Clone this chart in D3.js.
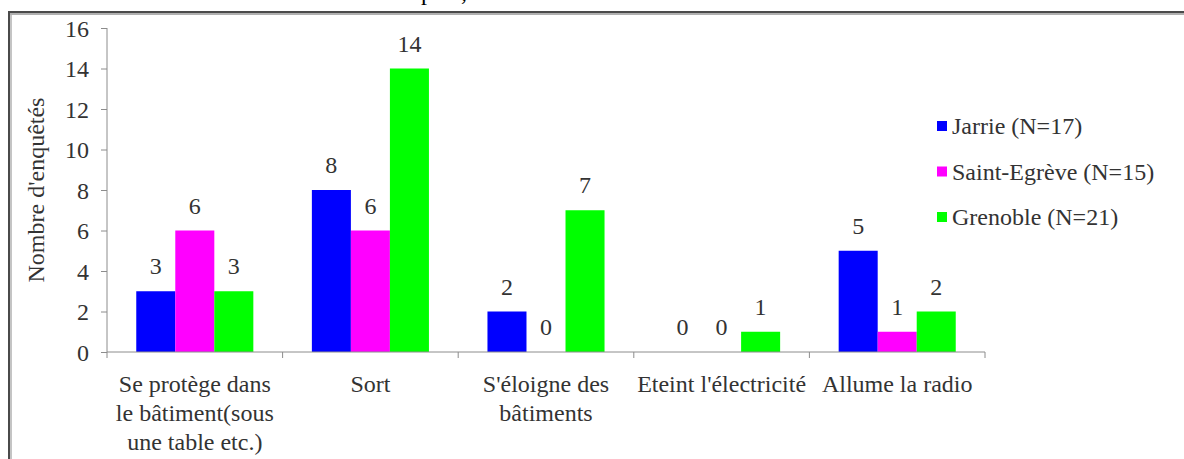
<!DOCTYPE html>
<html>
<head>
<meta charset="utf-8">
<script src="https://cdn.jsdelivr.net/npm/d3@7/dist/d3.min.js"></script>
<style>
  html, body { margin: 0; padding: 0; background: #fff; }
  svg { display: block; }
</style>
</head>
<body>
<svg id="chart" width="1184" height="459"></svg>
<script>
// Reactions reported by respondents, per survey site
const categories = [
  ["Se protège dans", "le bâtiment(sous", "une table etc.)"],
  ["Sort"],
  ["S'éloigne des", "bâtiments"],
  ["Eteint l'électricité"],
  ["Allume la radio"]
];
const seriesNames = ["Jarrie (N=17)", "Saint-Egrève (N=15)", "Grenoble (N=21)"];
const seriesColors = ["#0000ff", "#ff00ff", "#00ff00"];
const jarrie      = [3, 8, 2, 0, 5];
const saintEgreve = [6, 6, 0, 0, 1];
const grenoble    = [3, 14, 7, 1, 2];
const yTicks = [0, 2, 4, 6, 8, 10, 12, 14, 16];
const yTitle = "Nombre d'enquêtés";

const values = [jarrie, saintEgreve, grenoble];
const catKeys = categories.map((c, i) => i);

// Pick the first installed serif face (compare widths against a fallback)
function pickFont(candidates) {
  const ctx = document.createElement("canvas").getContext("2d");
  const sample = "mmmwwwiiilll Nombre 0123456789";
  for (const base of ["monospace", "sans-serif"]) {
    ctx.font = `40px ${base}`;
    const w0 = ctx.measureText(sample).width;
    for (const f of candidates) {
      ctx.font = `40px "${f}", ${base}`;
      if (Math.abs(ctx.measureText(sample).width - w0) > 0.5) return `"${f}", serif`;
    }
  }
  return "serif";
}
const FONT = pickFont(["Liberation Serif", "DejaVu Serif", "Noto Serif", "Tinos", "Times New Roman"]);
const TEXT_COLOR = "#333";
const FS = 24;

const svg = d3.select("#chart");
const plot = { left: 107, right: 985, top: 28, bottom: 352 };

// Frame of the surrounding text box (top and left edges)
const frame = svg.append("g");
frame.append("line").attr("x1", 8).attr("x2", 1184).attr("y1", 12).attr("y2", 12)
  .attr("stroke", "#4a4a4a").attr("stroke-width", 2);
frame.append("line").attr("x1", 10).attr("x2", 1184).attr("y1", 14).attr("y2", 14)
  .attr("stroke", "#b0b0b0").attr("stroke-width", 2);
frame.append("line").attr("x1", 9).attr("x2", 9).attr("y1", 11).attr("y2", 459)
  .attr("stroke", "#4a4a4a").attr("stroke-width", 2);
frame.append("line").attr("x1", 11).attr("x2", 11).attr("y1", 13).attr("y2", 459)
  .attr("stroke", "#b0b0b0").attr("stroke-width", 1.5);

// Caption line above the box, mostly cut off by the page edge
svg.append("text").attr("x", 421).attr("y", 0).attr("font-size", FS)
  .attr("font-family", FONT).attr("fill", "#000").text("plus,");

const x0 = d3.scaleBand().domain(catKeys).range([plot.left, plot.right]).paddingInner(0).paddingOuter(0);
const x1 = d3.scaleBand().domain(d3.range(seriesNames.length)).range([0, x0.bandwidth()]).paddingInner(0).paddingOuter(0.75);
const y = d3.scaleLinear().domain([0, 16]).range([plot.bottom, plot.top]);

const axisColor = "#8c8c8c";

// Y axis
const yAxis = svg.append("g").attr("transform", `translate(${plot.left},0)`)
  .call(d3.axisLeft(y).tickValues(yTicks).tickSize(6).tickPadding(12).tickFormat(d3.format("d")));
yAxis.attr("font-family", FONT).attr("font-size", FS);
yAxis.select(".domain").attr("stroke", axisColor).attr("d", `M0,${plot.top}V${plot.bottom}`);
yAxis.selectAll(".tick line").attr("stroke", axisColor);
yAxis.selectAll(".tick text").attr("fill", TEXT_COLOR).attr("dy", "0.34em");

// Bars
const groups = svg.append("g").selectAll("g").data(catKeys).join("g")
  .attr("transform", d => `translate(${x0(d)},0)`);
groups.selectAll("rect").data(ci => values.map((s, si) => ({ si, v: s[ci] }))).join("rect")
  .attr("x", d => x1(d.si)).attr("width", x1.bandwidth())
  .attr("y", d => y(d.v)).attr("height", d => y(0) - y(d.v))
  .attr("fill", d => seriesColors[d.si]);

// Value labels
groups.selectAll("text.val").data(ci => values.map((s, si) => ({ si, v: s[ci] }))).join("text")
  .attr("class", "val")
  .attr("x", d => x1(d.si) + x1.bandwidth() / 2)
  .attr("y", d => y(d.v) - 17)
  .attr("text-anchor", "middle").attr("font-size", FS)
  .attr("font-family", FONT).attr("fill", TEXT_COLOR)
  .text(d => d.v);

// X axis
const xAxis = svg.append("g").attr("transform", `translate(0,${plot.bottom})`);
xAxis.append("path").attr("d", `M${plot.left},0H${plot.right}`).attr("stroke", axisColor).attr("fill", "none");
xAxis.selectAll("line").data(catKeys.concat([categories.length])).join("line")
  .attr("x1", d => d < categories.length ? x0(d) : plot.right)
  .attr("x2", d => d < categories.length ? x0(d) : plot.right)
  .attr("y1", 0).attr("y2", 6).attr("stroke", axisColor);
xAxis.selectAll("text").data(catKeys).join("text")
  .attr("x", d => x0(d) + x0.bandwidth() / 2)
  .attr("y", 40)
  .attr("text-anchor", "middle").attr("font-size", FS)
  .attr("font-family", FONT).attr("fill", TEXT_COLOR)
  .each(function (d) {
    d3.select(this).selectAll("tspan").data(categories[d]).join("tspan")
      .attr("x", x0(d) + x0.bandwidth() / 2)
      .attr("dy", (t, i) => i === 0 ? 0 : 29)
      .text(t => t);
  });

// Y axis title
svg.append("text")
  .attr("transform", `translate(44,${(plot.top + plot.bottom) / 2}) rotate(-90)`)
  .attr("text-anchor", "middle").attr("font-size", FS)
  .attr("font-family", FONT).attr("fill", TEXT_COLOR)
  .text(yTitle);

// Legend
const legend = svg.append("g").selectAll("g").data(seriesNames).join("g")
  .attr("transform", (d, i) => `translate(937,${126 + i * 45.5})`);
legend.append("rect").attr("x", 0).attr("y", -5).attr("width", 10).attr("height", 10)
  .attr("fill", (d, i) => seriesColors[i]);
legend.append("text").attr("x", 15).attr("y", 0).attr("dy", "0.34em").attr("font-size", FS)
  .attr("font-family", FONT).attr("fill", TEXT_COLOR).text(d => d);
</script>
</body>
</html>
